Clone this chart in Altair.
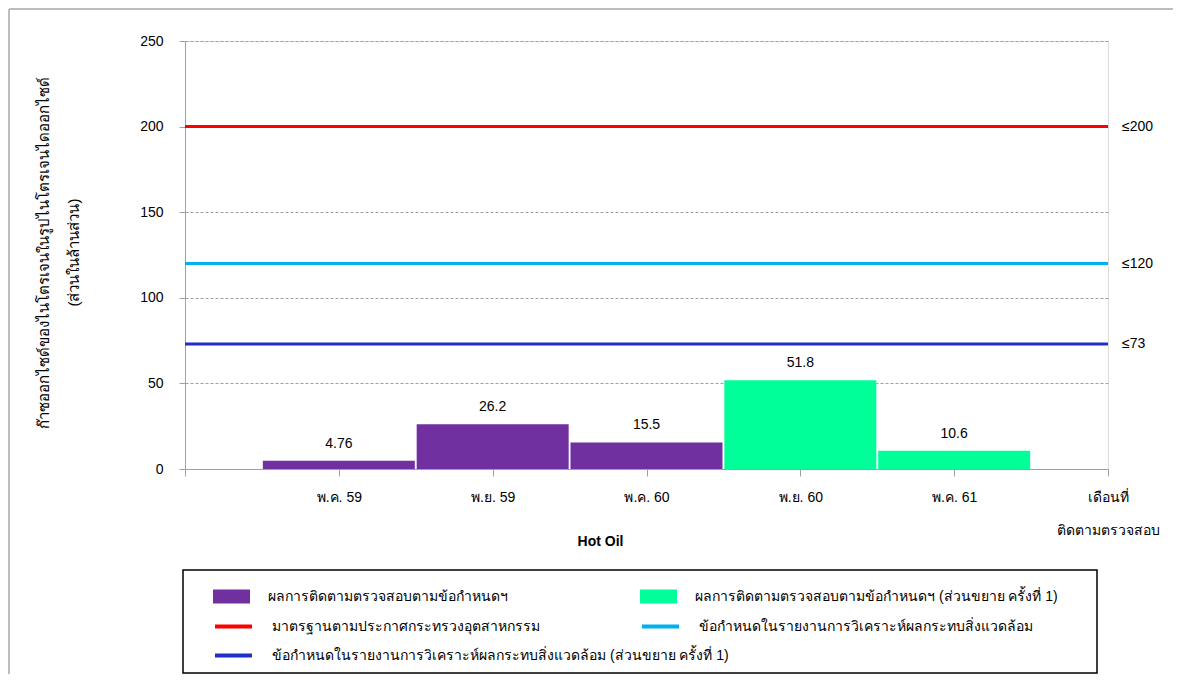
import json
import altair as alt
import pandas as pd

# ---------------- data ----------------
months = ["พ.ค. 59", "พ.ย. 59", "พ.ค. 60", "พ.ย. 60", "พ.ค. 61"]
values = [4.76, 26.2, 15.5, 51.8, 10.6]
series_names = [
    "ผลการติดตามตรวจสอบตามข้อกำหนดฯ",
    "ผลการติดตามตรวจสอบตามข้อกำหนดฯ  (ส่วนขยาย ครั้งที่ 1)",
]
series_of_bar = [0, 0, 0, 1, 1]
bar_colors = ["#7030A0", "#00FF99"]

limit_values = [200, 120, 73]
limit_names = [
    "มาตรฐานตามประกาศกระทรวงอุตสาหกรรม",
    "ข้อกำหนดในรายงานการวิเคราะห์ผลกระทบสิ่งแวดล้อม",
    "ข้อกำหนดในรายงานการวิเคราะห์ผลกระทบสิ่งแวดล้อม (ส่วนขยาย ครั้งที่ 1)",
]
limit_colors = ["#FF0000", "#00B0F0", "#1F2FC8"]

axis_end_label = ["เดือนที่", "ติดตามตรวจสอบ"]
y_title = ["ก๊าซออกไซด์ของไนโตรเจนในรูปไนโตรเจนไดออกไซด์", "(ส่วนในล้านส่วน)"]
x_title = "Hot Oil"
y_ticks = [0, 50, 100, 150, 200, 250]

FONT = "Liberation Sans"
W, H = 923, 428

bars_df = pd.DataFrame({
    "pos": list(range(1, len(months) + 1)),
    "month": months,
    "value": values,
    "series": [series_names[k] for k in series_of_bar],
})
limits_df = pd.DataFrame({"limit": limit_values, "name": limit_names})
one = pd.DataFrame({"a": [0]})

# ---------------- scales / axes ----------------
xscale = alt.Scale(domain=[0, len(months) + 1], nice=False, zero=False, padding=0)
yscale = alt.Scale(domain=[0, 250], nice=False, padding=0)

label_list = [""] + months + [axis_end_label]
xaxis = alt.Axis(
    values=list(range(0, len(months) + 2)),
    labelExpr=json.dumps(label_list, ensure_ascii=False) + "[datum.value]",
    labelFlush=False, labelOverlap=False, grid=False,
    tickSize=7, tickColor="#a0a0a0", domainColor="#a0a0a0",
    labelPadding=14, labelBaseline="top", labelLineHeight=33,
    labelFont=FONT, labelFontSize=14, labelColor="black",
    title=x_title, titleFont=FONT, titleFontSize=14, titleFontWeight="bold",
    titleColor="black", titleX=415, titleY=72, titleBaseline="middle",
    titleAlign="center",
)
yaxis = alt.Axis(
    values=y_ticks, grid=True, gridDash=[3, 2], gridColor="#a0a0a0",
    tickSize=6, tickColor="#a0a0a0", domainColor="#a0a0a0",
    labelPadding=16, labelFont=FONT, labelFontSize=14, labelColor="black",
    title=y_title, titleFont=FONT, titleFontSize=15, titleFontWeight="normal",
    titleColor="black", titleAngle=-90, titleX=-142, titleY=H / 2 - 3,
    titleLineHeight=30, titleBaseline="middle", titleAlign="center",
)


def legend(x, y, stroke):
    kw = dict(
        orient="none", legendX=x, legendY=y, title=None, padding=0,
        symbolSize=37 * 37, labelFont=FONT, labelFontSize=14,
        labelColor="black", labelLimit=800, labelOffset=18, symbolOffset=0,
    )
    if stroke:
        kw.update(symbolType="M-1,0H1", symbolStrokeWidth=4)
    else:
        kw.update(symbolType="M-1,-0.38H1V0.38H-1Z", symbolStrokeWidth=0)
    return alt.Legend(**kw)


row_y = [537, 565, 594]   # legend rows (top of entry), relative to plot
col_x = [28, 455]

bar_base = alt.Chart(bars_df).transform_calculate(
    x0="datum.pos - 0.494", x1="datum.pos + 0.494", base="0"
)

layers = []
bar_leg_pos = [(col_x[0], row_y[0]), (col_x[1], row_y[0])]
for k in range(len(series_names)):
    layers.append(
        bar_base.transform_filter(alt.datum.series == series_names[k])
        .mark_bar()
        .encode(
            x=alt.X("x0:Q", scale=xscale, axis=xaxis),
            x2="x1:Q",
            y=alt.Y("value:Q", scale=yscale, axis=yaxis),
            y2="base:Q",
            fill=alt.Fill(
                "series:N",
                scale=alt.Scale(domain=[series_names[k]], range=[bar_colors[k]]),
                legend=legend(*bar_leg_pos[k], stroke=False),
            ),
        )
    )

rule_leg_pos = [(col_x[0], row_y[1]), (col_x[1], row_y[1]), (col_x[0], row_y[2])]
for k in range(len(limit_names)):
    layers.append(
        alt.Chart(limits_df)
        .transform_filter(alt.datum.name == limit_names[k])
        .mark_rule(strokeWidth=3)
        .encode(
            y=alt.Y("limit:Q", scale=yscale, axis=yaxis),
            stroke=alt.Stroke(
                "name:N",
                scale=alt.Scale(domain=[limit_names[k]], range=[limit_colors[k]]),
                legend=legend(*rule_leg_pos[k], stroke=True),
            ),
        )
    )

# value labels on bars
layers.append(
    bar_base.transform_calculate(lbl="'' + datum.value")
    .mark_text(font=FONT, fontSize=14, color="black", dy=-17, baseline="middle")
    .encode(
        x=alt.X("pos:Q", scale=xscale, axis=xaxis),
        y=alt.Y("value:Q", scale=yscale, axis=yaxis),
        text="lbl:N",
    )
)

# limit labels on the right
layers.append(
    alt.Chart(limits_df)
    .transform_calculate(lbl="'≤' + datum.limit")
    .mark_text(font=FONT, fontSize=14, color="black", align="left", baseline="middle")
    .encode(
        x=alt.value(W + 14),
        y=alt.Y("limit:Q", scale=yscale, axis=yaxis),
        text="lbl:N",
    )
)

# legend frame
layers.append(
    alt.Chart(one)
    .mark_rect(fill=None, stroke="black", strokeWidth=1.5, clip=False)
    .encode(x=alt.value(-2), x2=alt.value(912), y=alt.value(529), y2=alt.value(632))
)

# outer chart border (left and top)
layers.append(
    alt.Chart(one)
    .mark_rule(color="#bdbdbd", strokeWidth=2)
    .encode(x=alt.value(-176), y=alt.value(-32), y2=alt.value(633))
)
layers.append(
    alt.Chart(one)
    .mark_rule(color="#bdbdbd", strokeWidth=2)
    .encode(x=alt.value(-176), x2=alt.value(988), y=alt.value(-32))
)

chart = (
    alt.layer(*layers)
    .resolve_scale(fill="independent", stroke="independent")
    .properties(width=W, height=H, padding=0)
    .configure_view(stroke="#a0a0a0", strokeWidth=1)
    .configure(font=FONT)
)

chart.save("out.html", embed_options={"renderer": "svg", "actions": False})
